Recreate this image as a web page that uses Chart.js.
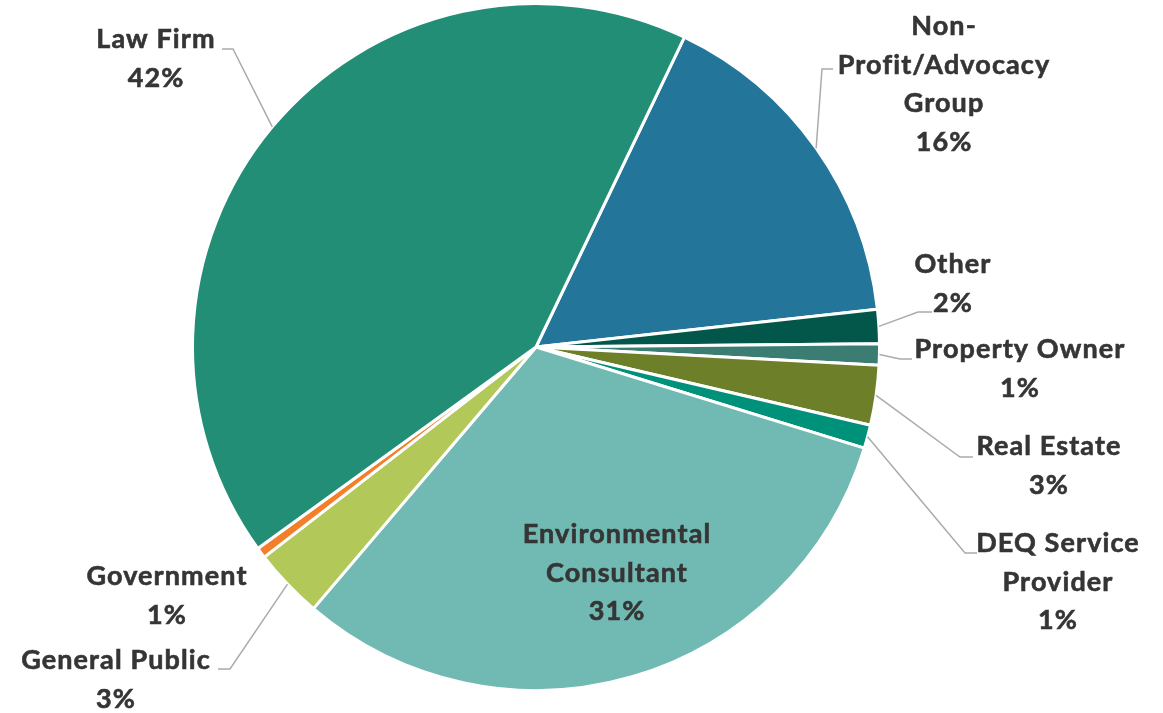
<!DOCTYPE html>
<html>
<head>
<meta charset="utf-8">
<script src="https://cdn.jsdelivr.net/npm/chart.js@4.4.1/dist/chart.umd.min.js"></script>
<style>
  html, body { margin: 0; padding: 0; background: #fff; }
  #wrap { width: 1163px; height: 713px; position: relative; }
</style>
</head>
<body>
<div id="wrap"><canvas id="chart"></canvas></div>
<script>
'use strict';

// data, clockwise from the Law Firm / Non-Profit boundary
let categories = ['Non-Profit/Advocacy Group', 'Other', 'Property Owner', 'Real Estate',
  'DEQ Service Provider', 'Environmental Consultant', 'General Public', 'Government', 'Law Firm'];
let shares = [16.1, 1.6, 1.0, 2.8, 1.1, 31.4, 3.3, 0.5, 42.0];

let sliceColors = ['#24759A', '#02574A', '#3B7D72', '#6E7F2A', '#00917B',
  '#71BAB3', '#B2C95A', '#F37F2A', '#238E76'];

// label placement (first baseline, centre x) and leader elbows
let labelLayout = [
  { lines: ['Non-', 'Profit/Advocacy', 'Group'], x: 944, y: 35, leader: [[822, 69], [833, 69]] },
  { lines: ['Other'], x: 953, y: 273, leader: [[918, 312], [932, 312]] },
  { lines: ['Property Owner'], x: 1020, y: 358, leader: [[900, 359], [912, 359]] },
  { lines: ['Real Estate'], x: 1049, y: 455, leader: [[960, 457], [973, 457]] },
  { lines: ['DEQ Service', 'Provider'], x: 1058, y: 552, leader: [[965, 553], [977, 553]] },
  { lines: ['Environmental', 'Consultant'], x: 617, y: 543 },
  { lines: ['General Public'], x: 116, y: 669, leader: [[230, 669], [218, 669]] },
  { lines: ['Government'], x: 167, y: 585 },
  { lines: ['Law Firm'], x: 156, y: 48, leader: [[233, 49], [222, 49]] }
];

let lineHeight = 38.5;

let labelPlugin = {
  id: 'pieLabels',
  afterDraw(chart) {
    let ctx = chart.ctx;
    let meta = chart.getDatasetMeta(0);
    let total = shares.reduce((a, b) => a + b, 0);
    ctx.save();
    meta.data.forEach((arc, i) => {
      let lay = labelLayout[i];
      let p = arc.getProps(['x', 'y', 'startAngle', 'endAngle', 'outerRadius'], true);
      if (lay.leader) {
        let mid = (p.startAngle + p.endAngle) / 2;
        ctx.beginPath();
        ctx.moveTo(p.x + Math.cos(mid) * p.outerRadius, p.y + Math.sin(mid) * p.outerRadius);
        lay.leader.forEach(pt => ctx.lineTo(pt[0], pt[1]));
        ctx.strokeStyle = '#ABABAB';
        ctx.lineWidth = 1.5;
        ctx.stroke();
      }
      let pct = Math.round(shares[i] / total * 100) + '%';
      let lines = lay.lines.concat([pct]);
      ctx.fillStyle = '#353535';
      ctx.strokeStyle = '#353535';
      ctx.lineWidth = 0.6;
      ctx.font = 'bold 27px Lato';
      ctx.letterSpacing = '1.1px';
      ctx.textAlign = 'center';
      ctx.textBaseline = 'alphabetic';
      lines.forEach((t, k) => {
        ctx.fillText(t, lay.x, lay.y + k * lineHeight);
        ctx.strokeText(t, lay.x, lay.y + k * lineHeight);
      });
    });
    ctx.restore();
  }
};

function renderChart() {
  let chartObj = {
    type: 'pie',
    data: {
      labels: categories,
      datasets: [{
        data: shares,
        backgroundColor: sliceColors,
        borderColor: '#ffffff',
        borderWidth: 3,
        hoverOffset: 0
      }]
    },
    options: {
      responsive: true,
      maintainAspectRatio: false,
      animation: false,
      rotation: 25.6,
      layout: {
        padding: { left: 191, right: 282, top: 2, bottom: 21 }
      },
      plugins: {
        legend: { display: false },
        tooltip: { enabled: false }
      }
    },
    plugins: [labelPlugin]
  };
  new Chart(document.getElementById('chart'), chartObj);
}

renderChart();
</script>
</body>
</html>
